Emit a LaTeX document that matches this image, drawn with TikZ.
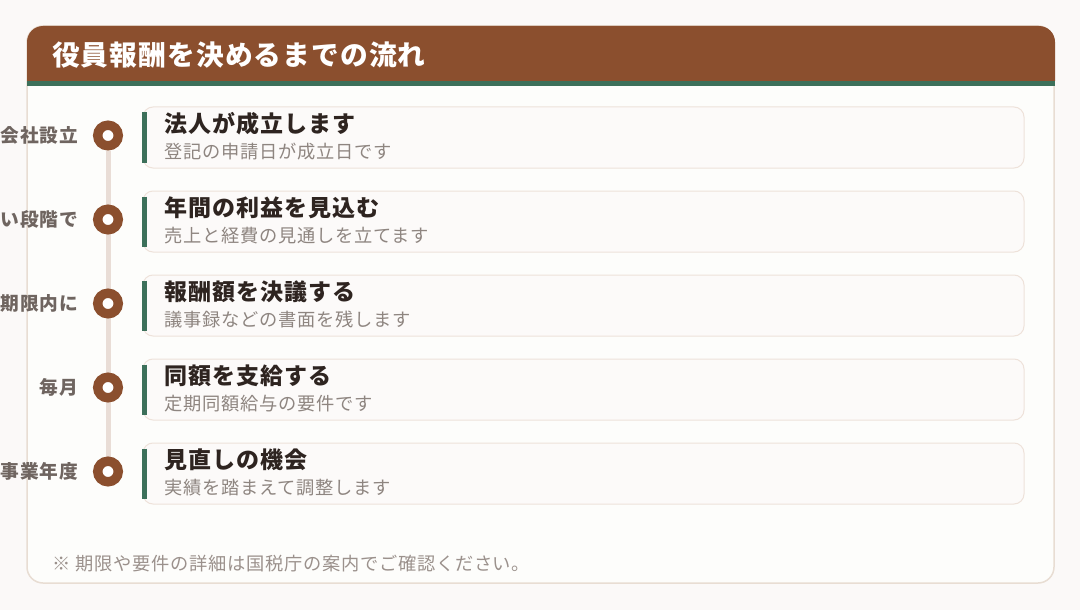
\documentclass[tikz,border=0pt]{standalone}
\usepackage{fontspec}
\usepackage{tikz}
\usetikzlibrary{positioning,backgrounds}
\newfontfamily\jpfont{Noto Sans CJK JP}[LetterSpace=4]

\definecolor{hdrbrown}{HTML}{8B4F2E}
\definecolor{accgreen}{HTML}{3C705A}
\definecolor{pagebg}{HTML}{FBF9F8}
\definecolor{cardbg}{HTML}{FDFDFB}
\definecolor{cardline}{HTML}{E8DDD3}
\definecolor{itembg}{HTML}{FCFAF9}
\definecolor{itemline}{HTML}{EEE2DA}
\definecolor{railcol}{HTML}{E9DDD6}
\definecolor{labelgray}{HTML}{6F6560}
\definecolor{titledark}{HTML}{2E2420}
\definecolor{subgray}{HTML}{8E8580}
\definecolor{footgray}{HTML}{9B918C}

\begin{document}
\begin{tikzpicture}[x=1pt, y=-1pt, node distance=84pt, font=\jpfont]
			\tikzstyle{dot}=[circle, draw=hdrbrown, line width=9.4pt, fill=white, minimum size=20.6pt, inner sep=0pt]
			\tikzstyle{item}=[rectangle, rounded corners=10pt, draw=itemline, line width=1pt, fill=itembg, minimum width=881pt, minimum height=61pt, inner sep=0pt]
			\tikzstyle{when}=[anchor=east, inner sep=0pt, text=labelgray, font=\jpfont\bfseries\fontsize{18.7}{20}\selectfont]
			\tikzstyle{head}=[anchor=west, inner sep=0pt, text=titledark, font=\jpfont\bfseries\fontsize{23}{24}\selectfont]
			\tikzstyle{sub}=[anchor=west, inner sep=0pt, text=subgray, font=\jpfont\fontsize{18.25}{19}\selectfont]
			\tikzstyle{bar}=[accgreen, line width=5pt]
			\useasboundingbox (0,0) rectangle (1080,610);
			% page, card and header
			\begin{scope}[on background layer]
				\fill[pagebg] (0,0) rectangle (1080,610);
				\filldraw[fill=cardbg, draw=cardline, line width=1.5pt, rounded corners=16pt] (27,26) rectangle (1054,583);
				\fill[hdrbrown] (27,81) -- (27,42) arc (180:90:16pt) -- (1039,26) arc (90:0:16pt) -- (1055,81) -- cycle;
				\fill[accgreen] (27,81) rectangle (1055,86);
			\end{scope}
			\node[anchor=west, inner sep=0pt, text=white, font=\jpfont\bfseries\fontsize{27.7}{30}\selectfont] (TITLE) at (52,55) {役員報酬を決めるまでの流れ};
			% timeline
			\node[dot] (D1) at (108,135.5) {};
			\node[dot] (D2) [below of=D1] {};
			\node[dot] (D3) [below of=D2] {};
			\node[dot] (D4) [below of=D3] {};
			\node[dot] (D5) [below of=D4] {};
			\begin{scope}[on background layer]
				\draw[railcol, line width=5pt] (D1) -- (D5);
			\end{scope}
			\node[when] (W1) at ([xshift=-30pt]D1.center) {会社設立};
			\node[when] (W2) at ([xshift=-30pt]D2.center) {い段階で};
			\node[when] (W3) at ([xshift=-30pt]D3.center) {期限内に};
			\node[when] (W4) at ([xshift=-30pt]D4.center) {毎月};
			\node[when] (W5) at ([xshift=-30pt]D5.center) {事業年度};
			% steps
			\node[item] (C1) at (583.5,137.5) {};
			\node[item] (C2) [below of=C1] {};
			\node[item] (C3) [below of=C2] {};
			\node[item] (C4) [below of=C3] {};
			\node[item] (C5) [below of=C4] {};
			\foreach \c in {C1,C2,C3,C4,C5}
				\draw[bar] ([xshift=1.5pt,yshift=25pt]\c.west) -- ([xshift=1.5pt,yshift=-25pt]\c.west);
			\node[head] (H1) at ([xshift=22pt,yshift=13.5pt]C1.west) {法人が成立します};
			\node[sub] (S1) at ([xshift=22pt,yshift=-14pt]C1.west) {登記の申請日が成立日です};
			\node[head] (H2) at ([xshift=22pt,yshift=13.5pt]C2.west) {年間の利益を見込む};
			\node[sub] (S2) at ([xshift=22pt,yshift=-14pt]C2.west) {売上と経費の見通しを立てます};
			\node[head] (H3) at ([xshift=22pt,yshift=13.5pt]C3.west) {報酬額を決議する};
			\node[sub] (S3) at ([xshift=22pt,yshift=-14pt]C3.west) {議事録などの書面を残します};
			\node[head] (H4) at ([xshift=22pt,yshift=13.5pt]C4.west) {同額を支給する};
			\node[sub] (S4) at ([xshift=22pt,yshift=-14pt]C4.west) {定期同額給与の要件です};
			\node[head] (H5) at ([xshift=22pt,yshift=13.5pt]C5.west) {見直しの機会};
			\node[sub] (S5) at ([xshift=22pt,yshift=-14pt]C5.west) {実績を踏まえて調整します};
			\node[anchor=west, inner sep=0pt, text=footgray, font=\jpfont\fontsize{18.25}{19}\selectfont] (NOTE) at (52,564) {※\hspace{5pt}期限や要件の詳細は国税庁の案内でご確認ください。};
		\end{tikzpicture}
\end{document}
